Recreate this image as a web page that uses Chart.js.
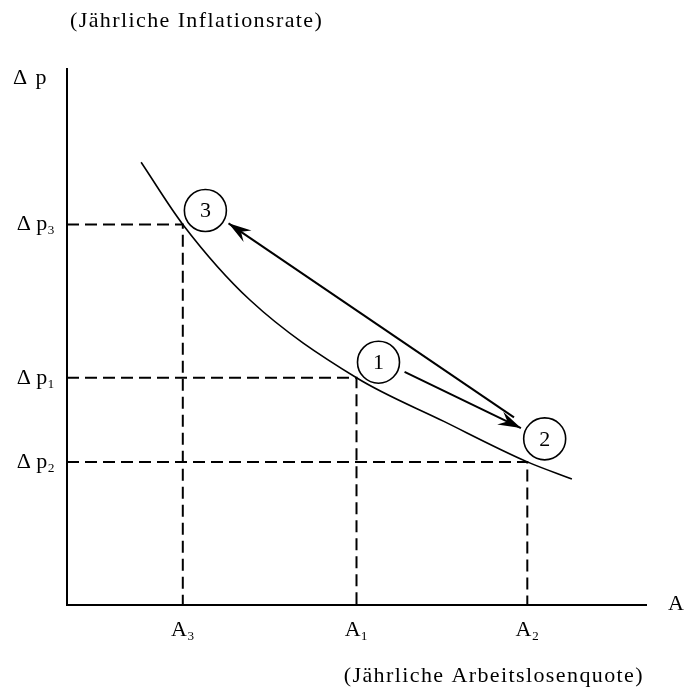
<!DOCTYPE html>
<html lang="de">
<head>
  <meta charset="UTF-8">
  <title>Phillips-Kurve</title>
  <script src="https://cdn.jsdelivr.net/npm/chart.js"></script>
  <style>
    html, body {
      margin: 0;
      padding: 0;
      background: #fff;
    }
  </style>
</head>
<body>
  <canvas id="chart" width="686" height="693"></canvas>

  <script>
    // Phillips-Kurve (Achsen 0..100, ohne Einheiten)
    const curveX = [12.8, 20.0, 31.6, 50.0, 65.0, 79.5, 87.2];
    const curveY = [82.6, 71.0, 56.9, 42.4, 34.3, 26.7, 23.5];

    // A3, A1, A2 und Δp3, Δp1, Δp2
    const levelA = [20, 50, 79.5];
    const levelP = [71, 42.4, 26.7];
    const xTickLabels = ["A₃", "A₁", "A₂"];
    const yTickLabels = ["Δ p₃", "Δ p₁", "Δ p₂"];

    // Punkte 1, 2, 3 (Kreise)
    const circleX = [53.8, 82.5, 23.9];
    const circleY = [45.3, 31.0, 73.6];
    const circleLabels = ["1", "2", "3"];

    // Pfeile 1 -> 2 und 2 -> 3
    const arrow12X = [58.3, 78.4];
    const arrow12Y = [43.5, 33.0];
    const arrow23X = [77.2, 27.9];
    const arrow23Y = [35.0, 71.2];

    const SERIF = "'Liberation Serif', 'Times New Roman', serif";
    const SPACING = "1.4px";

    const zip = (xs, ys) => xs.map((x, i) => ({ x: x, y: ys[i] }));

    const guides = levelA.map((a, i) => ({
      type: "line",
      data: [{ x: 0, y: levelP[i] }, { x: a, y: levelP[i] }, { x: a, y: 0 }],
      borderColor: "#000",
      borderWidth: 2,
      borderDash: [12, 6],
      pointRadius: 0,
      tension: 0
    }));

    const arrowStyle = {
      type: "line",
      borderColor: "#000",
      borderWidth: 2,
      pointRadius: 0,
      tension: 0,
      arrow: true
    };

    // Pfeilspitzen am letzten Punkt
    const arrowHeads = {
      id: "arrowHeads",
      afterDatasetsDraw(chart) {
        const ctx = chart.ctx;
        chart.data.datasets.forEach((ds, i) => {
          if (!ds.arrow) return;
          const pts = chart.getDatasetMeta(i).data;
          const tip = pts[pts.length - 1];
          const prev = pts[pts.length - 2];
          const ang = Math.atan2(tip.y - prev.y, tip.x - prev.x);
          const len = 23, half = 7, notch = 15;
          ctx.save();
          ctx.translate(tip.x, tip.y);
          ctx.rotate(ang);
          ctx.beginPath();
          ctx.moveTo(0, 0);
          ctx.lineTo(-len, -half);
          ctx.lineTo(-notch, 0);
          ctx.lineTo(-len, half);
          ctx.closePath();
          ctx.fillStyle = "#000";
          ctx.fill();
          ctx.restore();
        });
      }
    };

    // Ziffern in den Kreisen und freie Beschriftungen
    const labels = {
      id: "labels",
      afterDraw(chart) {
        const ctx = chart.ctx;
        const area = chart.chartArea;
        ctx.save();
        ctx.fillStyle = "#000";
        ctx.textBaseline = "middle";
        ctx.textAlign = "center";
        ctx.font = "22px " + SERIF;
        const idx = chart.data.datasets.findIndex(d => d.circles);
        chart.getDatasetMeta(idx).data.forEach((p, j) => {
          ctx.fillText(circleLabels[j], p.x, p.y + 1);
        });

        // Titel etwas gesperrt wie im Original
        ctx.letterSpacing = SPACING;
        ctx.textAlign = "left";
        ctx.fillText("(Jährliche Inflationsrate)", 70, 21);
        ctx.fillText("Δ p", 13, 78);
        ctx.fillText("A", area.right + 22, area.bottom - 1);
        ctx.textAlign = "right";
        ctx.fillText("(Jährliche Arbeitslosenquote)", area.right - 2, 676);
        ctx.restore();
      }
    };

    new Chart(document.getElementById("chart").getContext("2d"), {
      type: "scatter",
      data: {
        datasets: [
          ...guides,
          {
            type: "line",
            data: zip(curveX, curveY),
            borderColor: "#000",
            borderWidth: 1.6,
            pointRadius: 0,
            cubicInterpolationMode: "monotone"
          },
          Object.assign({ data: zip(arrow12X, arrow12Y) }, arrowStyle),
          Object.assign({ data: zip(arrow23X, arrow23Y) }, arrowStyle),
          {
            type: "scatter",
            data: zip(circleX, circleY),
            pointRadius: 21,
            pointHoverRadius: 21,
            pointBackgroundColor: "#fff",
            pointBorderColor: "#000",
            pointBorderWidth: 1.6,
            circles: true
          }
        ]
      },
      options: {
        responsive: false,
        animation: false,
        events: [],
        layout: {
          padding: { top: 69, right: 40, left: 0, bottom: 0 }
        },
        scales: {
          x: {
            type: "linear",
            min: 0,
            max: 100,
            afterFit: s => { s.height = 88; },
            afterBuildTicks: s => { s.ticks = levelA.map(v => ({ value: v })); },
            ticks: {
              autoSkip: false,
              maxRotation: 0,
              padding: 12,
              color: "#000",
              font: { family: SERIF, size: 22 },
              callback: (v, i) => xTickLabels[i]
            },
            grid: { display: false, drawTicks: false },
            border: { display: true, color: "#000", width: 2 }
          },
          y: {
            type: "linear",
            min: 0,
            max: 100,
            afterFit: s => { s.width = 67; },
            afterBuildTicks: s => { s.ticks = levelP.map(v => ({ value: v })); },
            ticks: {
              autoSkip: false,
              padding: 12,
              color: "#000",
              font: { family: SERIF, size: 22 },
              callback: (v, i) => yTickLabels[i]
            },
            grid: { display: false, drawTicks: false },
            border: { display: true, color: "#000", width: 2 }
          }
        },
        plugins: {
          legend: { display: false },
          tooltip: { enabled: false }
        }
      },
      plugins: [arrowHeads, labels]
    });
  </script>
</body>
</html>
